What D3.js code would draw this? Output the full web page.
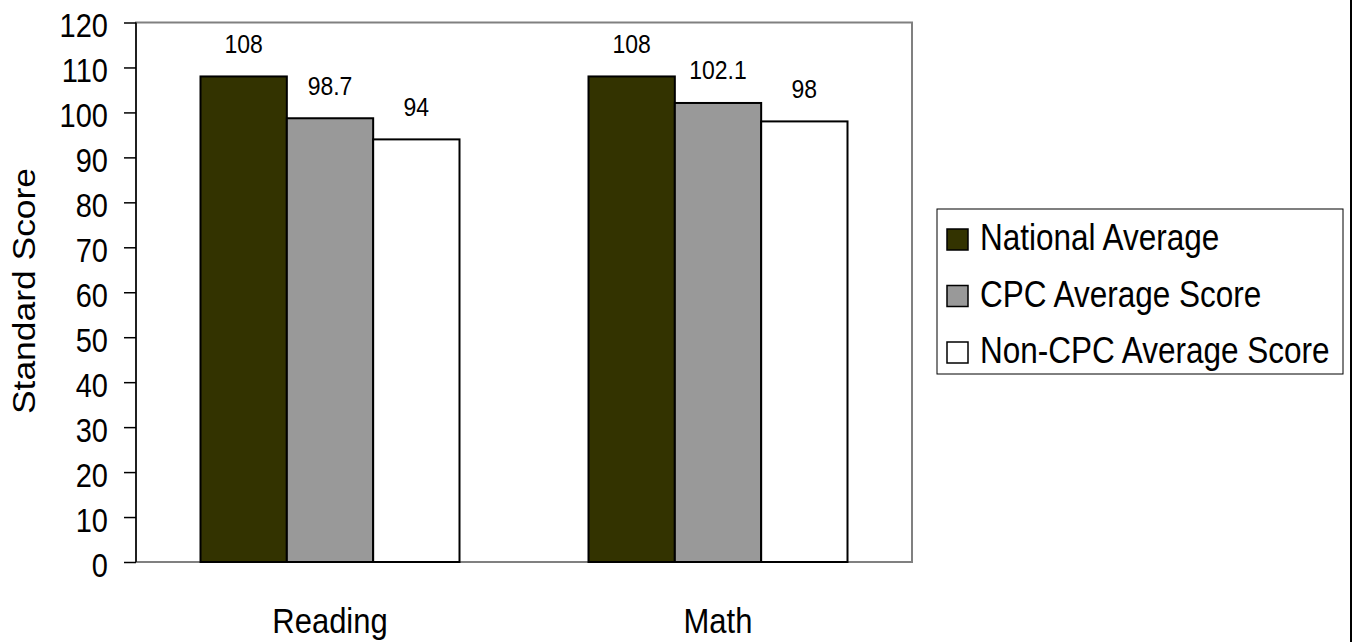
<!DOCTYPE html>
<html>
<head>
<meta charset="utf-8">
<script src="https://cdn.jsdelivr.net/npm/d3@7"></script>
<style>
  html, body { margin: 0; padding: 0; background: #fff; }
  svg { display: block; font-family: "Liberation Sans", Arial, sans-serif; }
</style>
</head>
<body>
<svg id="chart" width="1353" height="642"></svg>
<script>
const categories = ["Reading", "Math"];
const seriesNames = ["National Average", "CPC Average Score", "Non-CPC Average Score"];
const nationalAverage = [108, 108];
const cpcAverage = [98.7, 102.1];
const nonCpcAverage = [94, 98];
const seriesValues = [nationalAverage, cpcAverage, nonCpcAverage];
const seriesColors = ["#333300", "#999999", "#ffffff"];
const yTicks = [0, 10, 20, 30, 40, 50, 60, 70, 80, 90, 100, 110, 120];
const valueLabels = [["108", "108"], ["98.7", "102.1"], ["94", "98"]];

const SY = 1.15; // vertical stretch of text seen in reference
const svg = d3.select("#chart");
const plot = { left: 136, right: 912, top: 22.5, bottom: 562 };

const y = d3.scaleLinear().domain([0, 120]).range([plot.bottom, plot.top]);
const x0 = d3.scaleBand().domain(categories).range([plot.left, plot.right]).padding(0);
const groupW = 259;
const x1 = d3.scaleBand().domain(seriesNames)
  .range([(x0.bandwidth() - groupW) / 2, (x0.bandwidth() + groupW) / 2]).padding(0);

// plot area border
svg.append("rect")
  .attr("x", plot.left).attr("y", plot.top)
  .attr("width", plot.right - plot.left).attr("height", plot.bottom - plot.top)
  .attr("fill", "none").attr("stroke", "#808080").attr("stroke-width", 2);

// bars
const rows = categories.map((c, i) => ({ cat: c, vals: seriesNames.map((s, j) => ({ s, j, v: seriesValues[j][i], label: valueLabels[j][i] })) }));
const g = svg.selectAll("g.cat").data(rows).enter().append("g")
  .attr("class", "cat")
  .attr("transform", d => `translate(${x0(d.cat)},0)`);

g.selectAll("rect").data(d => d.vals).enter().append("rect")
  .attr("x", d => x1(d.s))
  .attr("y", d => y(d.v))
  .attr("width", x1.bandwidth())
  .attr("height", d => y(0) - y(d.v))
  .attr("fill", d => seriesColors[d.j])
  .attr("stroke", "#000").attr("stroke-width", 2);

g.selectAll("text.val").data(d => d.vals).enter().append("text")
  .attr("class", "val")
  .attr("text-anchor", "middle")
  .attr("font-size", 23)
  .attr("fill", "#000")
  .attr("transform", d => `translate(${x1(d.s) + x1.bandwidth() / 2},${y(d.v) - 23.5}) scale(1,${SY})`)
  .text(d => d.label);

// y axis
const yAxis = svg.append("g")
  .attr("transform", `translate(${plot.left},0)`)
  .call(d3.axisLeft(y).tickValues(yTicks).tickSize(12).tickPadding(16).tickFormat(d3.format("d")));
yAxis.select(".domain").attr("stroke", "#000").attr("stroke-width", 1.5).attr("d", `M0,${plot.top}V${plot.bottom}`);
yAxis.selectAll(".tick line").attr("stroke", "#000").attr("stroke-width", 1.5);
yAxis.selectAll(".tick text")
  .attr("font-size", 29).attr("font-family", "Liberation Sans, Arial, sans-serif")
  .attr("fill", "#000").attr("dy", "0.43em")
  .attr("transform", `scale(1,${SY})`);

// category labels
svg.selectAll("text.cat").data(categories).enter().append("text")
  .attr("class", "cat")
  .attr("text-anchor", "middle")
  .attr("font-size", 31)
  .attr("transform", d => `translate(${x0(d) + x0.bandwidth() / 2},633) scale(1,${SY})`)
  .text(d => d);

// y title
svg.append("text")
  .attr("text-anchor", "middle")
  .attr("font-size", 30.8)
  .attr("transform", `translate(35,291) scale(1,${SY}) rotate(-90)`)
  .text("Standard Score");

// legend
const leg = svg.append("g");
leg.append("rect").attr("x", 937).attr("y", 209).attr("width", 406).attr("height", 165)
  .attr("fill", "#fff").attr("stroke", "#000").attr("stroke-width", 1);
const legRowY = [229, 285.5, 342];
const li = leg.selectAll("g.li").data(seriesNames).enter().append("g").attr("class", "li");
li.append("rect")
  .attr("x", 947).attr("y", (d, i) => legRowY[i])
  .attr("width", 21).attr("height", 21)
  .attr("fill", (d, i) => seriesColors[i]).attr("stroke", "#000").attr("stroke-width", 1.5);
li.append("text")
  .attr("font-size", 31.5)
  .attr("transform", (d, i) => `translate(980,${legRowY[i] + 21}) scale(1,1.16)`)
  .text(d => d);

// chart outer border (right edge visible)
svg.append("line").attr("x1", 1351).attr("x2", 1351).attr("y1", 0).attr("y2", 642)
  .attr("stroke", "#000").attr("stroke-width", 2);
</script>
</body>
</html>
